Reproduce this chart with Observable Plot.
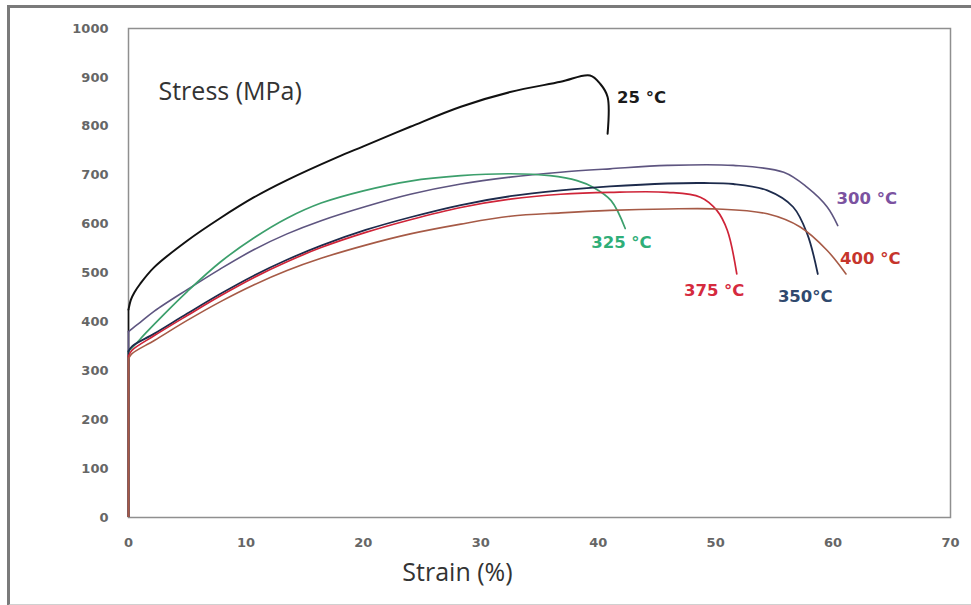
<!DOCTYPE html>
<html>
<head>
<meta charset="utf-8">
<script src="https://cdn.jsdelivr.net/npm/d3@7"></script>
<script src="https://cdn.jsdelivr.net/npm/@observablehq/plot@0.6"></script>
<style>
  html, body { margin: 0; padding: 0; background: #fff; }
  #wrap { position: relative; width: 971px; height: 605px; overflow: hidden; }
  #border { position: absolute; left: 7px; top: 5px; width: 980px; height: 596px;
            border-top: 3px solid #7a7a7a; border-left: 3px solid #7a7a7a; border-bottom: 2px solid #d0d0d0;
            pointer-events: none; }
  svg { display: block; }
</style>
</head>
<body>
<div id="wrap"><div id="chart"></div><div id="border"></div></div>
<script>
// Series names (temperatures)
const series = ["25 °C", "300 °C", "325 °C", "350°C", "375 °C", "400 °C"];

// Stress at the top of the vertical elastic segment (strain 0), MPa
const yieldStress = [425, 380, 340, 340, 330, 325];

// Plastic part: strain (%) / stress (MPa)
const s25x  = [0, 0.2, 0.5, 1, 2.2, 5, 7.8, 10.7, 13.5, 17.8, 20, 24, 28.3, 32.5, 36.8, 39.3, 40.2, 40.8, 40.8];
const s25y  = [425, 445, 460, 478, 512, 566, 612, 655, 690, 737, 759, 799, 840, 870, 891, 904, 886, 860, 785];

const s300x = [0, 0.5, 1, 2.2, 5, 7.8, 10.7, 13.5, 16.4, 20.2, 24, 28.3, 32.5, 36.8, 41, 45.9, 51.5, 55.8, 57.8, 59.5, 60.4];
const s300y = [380, 390, 399, 422, 466, 508, 548, 580, 607, 636, 661, 682, 696, 706, 713, 720, 720, 706, 675, 635, 597];

const s325x = [0, 0.5, 1.5, 3, 5, 7.8, 10.7, 13.5, 16.4, 20, 24, 28.3, 32.5, 35.9, 38.2, 39.6, 41.1, 42.3];
const s325y = [340, 352, 378, 415, 462, 522, 572, 612, 643, 668, 688, 699, 703, 699, 689, 675, 648, 591];

const s350x = [0, 0.3, 2.2, 5, 7.8, 10.7, 13.5, 16.4, 20.2, 24, 28.3, 32.5, 36.8, 41, 45.9, 49, 51.5, 54.4, 56.6, 57.8, 58.7];
const s350y = [340, 350, 376, 417, 457, 495, 527, 556, 588, 614, 639, 657, 669, 677, 683, 684, 682, 669, 635, 580, 498];

const s375x = [0, 0.3, 2.2, 5, 7.8, 10.7, 13.5, 16.4, 20.2, 24, 28.3, 32.5, 36.8, 41, 45.9, 48.7, 50.1, 51, 51.8];
const s375y = [330, 342, 372, 413, 453, 491, 523, 552, 583, 609, 634, 651, 661, 665, 665, 655, 628, 587, 498];

const s400x = [0, 0.3, 2.2, 5, 7.8, 10.7, 13.5, 16.4, 20.2, 24, 28.3, 32.5, 36.8, 41, 45.9, 50.1, 54.4, 57.2, 59.5, 61.1];
const s400y = [325, 335, 362, 403, 441, 476, 505, 530, 557, 580, 600, 616, 623, 628, 631, 631, 621, 594, 546, 498];

// Label anchor points (data coordinates)
const labelX = [41.6, 60.3, 39.4, 55.3, 47.3, 60.6];
const labelY = [858, 652, 562, 452, 464, 530];

// Tick values
const xTicks = [0, 10, 20, 30, 40, 50, 60, 70];
const yTicks = [0, 100, 200, 300, 400, 500, 600, 700, 800, 900, 1000];

const lineColors  = ["#111111", "#5e5580", "#3c9f6c", "#1d2b4c", "#cf2438", "#a65a46"];
const labelColors = ["#1a1a1a", "#7b52a0", "#2fae78", "#30496e", "#d52a3e", "#c6352c"];
const lineWidths  = [2, 1.6, 1.7, 1.8, 1.7, 1.6];

const xs = [s25x, s300x, s325x, s350x, s375x, s400x];
const ys = [s25y, s300y, s325y, s350y, s375y, s400y];
const rows = [];
series.forEach((name, i) => xs[i].forEach((x, j) => rows.push({name, i, strain: x, stress: ys[i][j]})));
const elastic = series.map((name, i) => ({name, i, y: yieldStress[i]}));
const labels = series.map((name, i) => ({name, i, x: labelX[i], y: labelY[i]}));

const marks = [
  Plot.frame({stroke: "#8f8f8f", strokeWidth: 1.5}),
  Plot.axisX({ticks: xTicks, tickSize: 0, tickPadding: 20, label: null, fontWeight: 700, fill: "#666",
              fontFamily: "'DejaVu Sans', sans-serif", fontSize: 13}),
  Plot.axisY({ticks: yTicks, tickFormat: d => String(d), tickSize: 0, tickPadding: 20, label: null, fontWeight: 700, fill: "#666",
              fontFamily: "'DejaVu Sans', sans-serif", fontSize: 13}),
  Plot.ruleX(elastic, {x: 0, y1: 0, y2: "y", stroke: d => lineColors[d.i], strokeWidth: 1.6})
];
series.forEach((name, i) => {
  marks.push(Plot.line(rows.filter(r => r.i === i), {x: "strain", y: "stress", stroke: lineColors[i], strokeWidth: lineWidths[i], curve: "catmull-rom"}));
});
marks.push(
  Plot.text(labels, {x: "x", y: "y", text: "name", textAnchor: "start", fill: d => labelColors[d.i], fontWeight: 700, fontSize: 16.5,
                     fontFamily: "'DejaVu Sans', sans-serif"}),
  Plot.text(["Stress (MPa)"], {frameAnchor: "top-left", dx: 30, dy: 54, textAnchor: "start", fill: "#333", fontSize: 25, letterSpacing: "1.2px"}),
  Plot.text(["Strain (%)"], {frameAnchor: "bottom", dx: -82, dy: 63, fill: "#333", fontSize: 25, letterSpacing: "1px"})
);

const chart = Plot.plot({
  width: 971,
  height: 605,
  marginLeft: 128,
  marginRight: 21,
  marginTop: 28,
  marginBottom: 88,
  style: {fontFamily: "'Open Sans', sans-serif", fontSize: "13px", color: "#5a5a5a", background: "transparent"},
  x: {domain: [0, 70]},
  y: {domain: [0, 1000]},
  marks
});
document.getElementById("chart").appendChild(chart);
</script>
</body>
</html>
